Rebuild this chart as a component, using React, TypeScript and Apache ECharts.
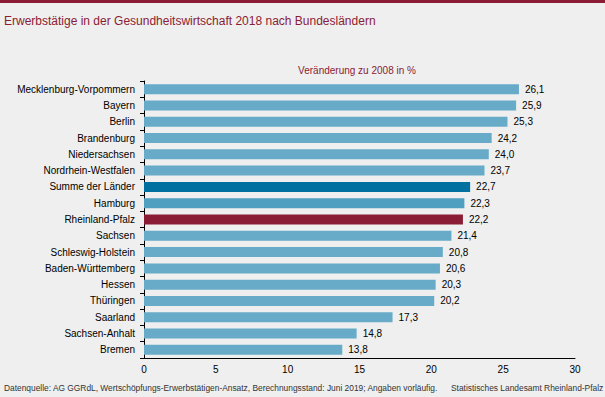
import React, { useEffect, useRef } from "react";
import * as echarts from "echarts";

const categories = [
  "Mecklenburg-Vorpommern",
  "Bayern",
  "Berlin",
  "Brandenburg",
  "Niedersachsen",
  "Nordrhein-Westfalen",
  "Summe der Länder",
  "Hamburg",
  "Rheinland-Pfalz",
  "Sachsen",
  "Schleswig-Holstein",
  "Baden-Württemberg",
  "Hessen",
  "Thüringen",
  "Saarland",
  "Sachsen-Anhalt",
  "Bremen",
];
const values = [26.1, 25.9, 25.3, 24.2, 24.0, 23.7, 22.7, 22.3, 22.2, 21.4, 20.8, 20.6, 20.3, 20.2, 17.3, 14.8, 13.8];
const xTicks = [0, 5, 10, 15, 20, 25, 30];

const title = "Erwerbstätige in der Gesundheitswirtschaft 2018 nach Bundesländern";
const subtitle = "Veränderung zu 2008 in %";
const source = "Datenquelle: AG GGRdL, Wertschöpfungs-Erwerbstätigen-Ansatz, Berechnungsstand: Juni 2019; Angaben vorläufig.";
const publisher = "Statistisches Landesamt Rheinland-Pfalz";

const colorFor = (name: string) => {
  if (name === "Summe der Länder") return "#0070a0";
  if (name === "Rheinland-Pfalz") return "#8b1c35";
  if (name === "Hamburg") return "#4f9fc0";
  return "#67abc9";
};

export default function App() {
  const ref = useRef<HTMLDivElement>(null);
  useEffect(() => {
    if (!ref.current) return;
    const chart = echarts.init(ref.current, null, { renderer: "svg" });
    const font = "Liberation Sans, Arial, sans-serif";
    chart.setOption({
      animation: false,
      backgroundColor: "#eeefee",
      textStyle: { fontFamily: font },
      graphic: [
        { type: "rect", left: 0, top: 0, shape: { width: 605, height: 3 }, style: { fill: "#8b1c35" } },
        {
          type: "text", left: 4, top: 15,
          style: { text: title, fill: "#8b1c35", font: `12px ${font}` },
        },
        {
          type: "text", x: 357, y: 70,
          style: { text: subtitle, fill: "#8b1c35", font: `10px ${font}`, textAlign: "center", textVerticalAlign: "middle" },
        },
        {
          type: "text", left: 4, top: 384,
          style: { text: source, fill: "#333", font: `8.4px ${font}` },
        },
        {
          type: "text", left: 451, top: 384,
          style: { text: publisher, fill: "#333", font: `8.4px ${font}` },
        },
      ],
      grid: { left: 144, right: 30, top: 81, bottom: 39, containLabel: false },
      xAxis: {
        type: "value",
        min: 0,
        max: 30,
        interval: 5,
        axisLine: { show: true, lineStyle: { color: "#000" } },
        axisTick: { show: false },
        splitLine: { show: false },
        axisLabel: {
          color: "#000", fontSize: 10, margin: 6,
          formatter: (v: number) => (xTicks.includes(v) ? String(v) : ""),
        },
      },
      yAxis: {
        type: "category",
        inverse: true,
        data: categories,
        axisLine: { show: true, lineStyle: { color: "#000" } },
        axisTick: { show: true, length: 4, lineStyle: { color: "#000" } },
        axisLabel: { color: "#000", fontSize: 10, margin: 9 },
      },
      series: [
        {
          type: "bar",
          barWidth: 10,
          data: categories.map((c, i) => ({ value: values[i], itemStyle: { color: colorFor(c) } })),
          label: {
            show: true,
            position: "right",
            distance: 6,
            color: "#000",
            fontSize: 10,
            formatter: (p: any) => p.value.toFixed(1).replace(".", ","),
          },
        },
      ],
    });
    return () => chart.dispose();
  }, []);
  return <div ref={ref} style={{ width: 605, height: 397, position: "absolute", left: 0, top: 0 }} />;
}
